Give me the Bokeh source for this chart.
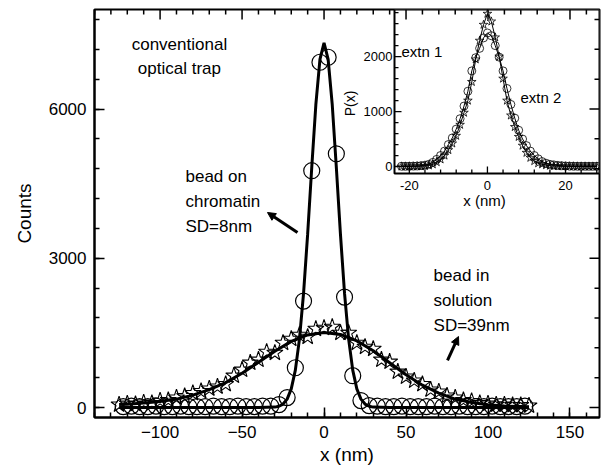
import numpy as np
from bokeh.plotting import figure
from bokeh.models import Range1d, FixedTicker, Label, Arrow, NormalHead
from bokeh.embed import file_html
from bokeh.resources import INLINE
from bokeh.core.properties import value

# ---------------- main panel data ----------------
chrom_x = np.arange(-122.5, 123, 5.0)           # bead on chromatin (circles)
chrom_counts = [20, 30, 20, 20, 30, 20, 20, 30, 20, 20,
                20, 30, 20, 20, 30, 20, 20, 30, 30, 60,
                200, 800, 2140, 4760, 6940, 7040, 5100, 2220, 640, 140,
                40, 30, 20, 20, 30, 20, 20, 20, 30, 20,
                20, 30, 20, 20, 20, 30, 20, 20, 20, 30]

chrom_fit_x = [-125, -40, -30, -27.5, -25, -22.5, -20, -17.5, -15, -12.5, -10, -7.5, -5, -2.5, 0,
               2.5, 5, 7.5, 10, 12.5, 15, 17.5, 20, 22.5, 25, 27.5, 30, 40, 125]
chrom_fit_y = [0, 0, 9, 25, 70, 170, 375, 752, 1376, 2294, 3485, 4825, 6086, 6997, 7330,
               6997, 6086, 4825, 3485, 2294, 1376, 752, 375, 170, 70, 25, 9, 0, 0]

sol_x = np.arange(-125, 126, 5)                  # bead in solution (stars)
sol_counts = [60, 80, 70, 100, 90, 140, 150, 200, 230, 290,
              330, 380, 420, 470, 640, 760, 900, 960, 1120, 1100,
              1300, 1380, 1460, 1420, 1580, 1600, 1620, 1500, 1500, 1300,
              1220, 1180, 960, 920, 720, 620, 540, 470, 360, 320,
              240, 200, 150, 130, 90, 80, 60, 60, 50, 50, 40]

sol_fit_x = [-125, -120, -110, -100, -90, -80, -70, -60, -50, -40, -30, -20, -10, 0,
             10, 20, 30, 40, 50, 60, 70, 80, 90, 100, 110, 120, 125]
sol_fit_y = [60, 65, 90, 120, 170, 250, 360, 500, 690, 910, 1130, 1330, 1460, 1510,
             1470, 1340, 1140, 900, 660, 450, 290, 170, 100, 55, 30, 20, 15]

x_ticks = [-100, -50, 0, 50, 100, 150]
x_minor = list(range(-140, 170, 10))
y_ticks = [0, 3000, 6000]
y_minor = list(range(0, 8000, 600))

# ---------------- inset data ----------------
in_x = np.arange(-22, 29, 1)
in_ext1 = [5, 5, 5, 8, 10, 15, 25, 40, 75, 130, 200, 280, 400, 520, 680, 870, 1100, 1370,
           1740, 1980, 2150, 2340, 2430, 2380, 2200, 1990, 1740, 1420, 1130, 880, 660, 500,
           380, 280, 200, 140, 90, 60, 40, 30, 20, 15, 10, 8, 6, 5, 5, 5, 5, 5, 5]
in_ext2 = [0, 0, 2, 2, 4, 6, 10, 20, 40, 80, 130, 200, 300, 420, 560, 760, 980, 1200,
           1540, 1950, 2290, 2580, 2780, 2640, 2350, 2000, 1600, 1200, 930, 720, 540, 380,
           250, 160, 100, 60, 40, 25, 15, 10, 6, 4, 3, 2, 2, 1, 1, 1, 0, 0, 0]
in_x_ticks = [-20, 0, 20]
in_x_minor = list(range(-20, 29, 4))
in_y_ticks = [0, 1000, 2000]
in_y_minor = list(range(0, 2900, 200))

FONT = "Liberation Sans"

# ---------------- geometry ----------------
XR = (-140, 168)
YR = (-200, 8000)
FW, FH = 505, 408
xpp = (XR[1] - XR[0]) / FW
ypp = (YR[1] - YR[0]) / FH
IX0, IX1 = -23.8, 28.7
IY0, IY1 = -127, 2857
IN_LEFT_PX = 300      # inset left from frame left
IN_W, IN_H = 205, 164
ixpp = (IX1 - IX0) / IN_W
iypp = (IY1 - IY0) / IN_H

p = figure(width=602, height=473, x_range=Range1d(*XR), y_range=Range1d(*YR),
           output_backend="svg", toolbar_location=None,
           min_border_left=94, min_border_right=3, min_border_top=9, min_border_bottom=56,
           x_axis_label="x (nm)", y_axis_label="Counts")
p.extra_x_ranges = {"ix": Range1d(IX0 - IN_LEFT_PX * ixpp, IX1)}
p.extra_y_ranges = {"iy": Range1d(IY0 - (FH - IN_H) * iypp, IY1)}
p.grid.visible = False
p.outline_line_color = "black"
p.outline_line_width = 2
p.background_fill_color = "white"
p.border_fill_color = "white"

for ax, tk in ((p.xaxis[0], FixedTicker(ticks=x_ticks, minor_ticks=x_minor)),
               (p.yaxis[0], FixedTicker(ticks=y_ticks, minor_ticks=y_minor))):
    ax.ticker = tk
    ax.axis_line_width = 2
    ax.axis_line_color = "black"
    ax.major_tick_in = 10
    ax.major_tick_out = 0
    ax.minor_tick_in = 5
    ax.minor_tick_out = 0
    ax.major_tick_line_width = 1.5
    ax.minor_tick_line_width = 1.5
    ax.major_tick_line_color = "black"
    ax.minor_tick_line_color = "black"
    ax.major_label_text_font = FONT
    ax.axis_label_text_font = FONT
    ax.axis_label_text_font_style = "normal"
    ax.major_label_text_color = "black"
    ax.axis_label_text_color = "black"
    ax.major_label_text_font_size = "17px"
    ax.axis_label_text_font_size = "19px"
    ax.major_label_standoff = 8
p.xaxis.axis_label_standoff = 3
p.yaxis.axis_label_standoff = 11

# main glyphs
p.line(sol_fit_x, sol_fit_y, line_color="black", line_width=3)
p.scatter(sol_x, sol_counts, marker="star", size=17, fill_color=None,
          line_color="black", line_width=1.1)
p.scatter(chrom_x, chrom_counts, marker="circle", size=16, fill_color=None,
          line_color="black", line_width=1.2)
p.line(chrom_fit_x, chrom_fit_y, line_color="black", line_width=3)

# main annotations
TXT = dict(text_font=FONT, text_font_size="17px", text_color="black")
p.add_layout(Label(x=-88.2, y=7480, text="conventional\noptical trap", text_align="center",
                   text_baseline="top", text_line_height=1.25, **TXT))
p.add_layout(Label(x=-84.5, y=4825, text="bead on\nchromatin\nSD=8nm", text_align="left",
                   text_baseline="top", text_line_height=1.3, **TXT))
p.add_layout(Label(x=66.8, y=2835, text="bead in\nsolution\nSD=39nm", text_align="left",
                   text_baseline="top", text_line_height=1.3, **TXT))
p.add_layout(Arrow(end=NormalHead(size=8, fill_color="black", line_color="black"),
                   x_start=-16.2, y_start=3519, x_end=-34.5, y_end=3920,
                   line_width=3, line_color="black"))
p.add_layout(Arrow(end=NormalHead(size=8, fill_color="black", line_color="black"),
                   x_start=75.3, y_start=946, x_end=82.0, y_end=1428,
                   line_width=3, line_color="black"))

# ---------------- inset ----------------
R = dict(x_range_name="ix", y_range_name="iy")
p.quad(left=[IX0], right=[IX1], bottom=[IY0], top=[IY1], fill_color="white",
       line_color="black", line_width=2, **R)
p.line(in_x, in_ext1, line_color="black", line_width=1, **R)
p.line(in_x, in_ext2, line_color="black", line_width=1, **R)
p.scatter(in_x, in_ext1, marker="circle", size=8, fill_color=None, line_color="black",
          line_width=0.8, **R)
p.scatter(in_x, in_ext2, marker="star", size=9, fill_color=None, line_color="black",
          line_width=0.8, **R)

# inset ticks (inside, left and bottom)
ymin_t = [v for v in in_y_minor if v not in in_y_ticks]
p.segment(x0=[IX0] * len(ymin_t), y0=ymin_t, x1=[IX0 + 4 * ixpp] * len(ymin_t), y1=ymin_t,
          line_color="black", line_width=1.3, **R)
p.segment(x0=[IX0] * len(in_y_ticks), y0=in_y_ticks, x1=[IX0 + 7 * ixpp] * len(in_y_ticks),
          y1=in_y_ticks, line_color="black", line_width=1.3, **R)
xmin_t = [v for v in in_x_minor if v not in in_x_ticks]
p.segment(x0=xmin_t, y0=[IY0] * len(xmin_t), x1=xmin_t, y1=[IY0 + 4 * iypp] * len(xmin_t),
          line_color="black", line_width=1.3, **R)
p.segment(x0=in_x_ticks, y0=[IY0] * len(in_x_ticks), x1=in_x_ticks,
          y1=[IY0 + 7 * iypp] * len(in_x_ticks), line_color="black", line_width=1.3, **R)

p.text(x=[IX0 - 2 * ixpp] * len(in_y_ticks), y=in_y_ticks, text=[str(v) for v in in_y_ticks],
       text_align="right", text_baseline="middle", text_font=value(FONT),
       text_font_size="13px", text_color="black", **R)
p.text(x=in_x_ticks, y=[IY0 - 7 * iypp] * len(in_x_ticks), text=[str(v) for v in in_x_ticks],
       text_align="center", text_baseline="top", text_font=value(FONT),
       text_font_size="13px", text_color="black", **R)

ITXT = dict(text_font=FONT, text_color="black")
p.add_layout(Label(x=-0.75, y=-618, text="x (nm)", text_align="center", text_baseline="middle",
                   text_font_size="15px", **ITXT, **R))
p.add_layout(Label(x=-35.3, y=1147, text="P(x)", angle=np.pi / 2, text_align="center",
                   text_baseline="middle", text_font_size="14px", **ITXT, **R))
p.add_layout(Label(x=-22.0, y=2093, text="extn 1", text_align="left", text_baseline="middle",
                   text_font_size="15px", **ITXT, **R))
p.add_layout(Label(x=8.47, y=1256, text="extn 2", text_align="left", text_baseline="middle",
                   text_font_size="15px", **ITXT, **R))

# mirrored main ticks on top and right frame edges (drawn above the inset)
xmin_m = [v for v in x_minor if v not in x_ticks]
p.segment(x0=xmin_m, y0=[YR[1]] * len(xmin_m), x1=xmin_m, y1=[YR[1] - 5 * ypp] * len(xmin_m),
          line_color="black", line_width=1.5)
p.segment(x0=x_ticks, y0=[YR[1]] * len(x_ticks), x1=x_ticks, y1=[YR[1] - 10 * ypp] * len(x_ticks),
          line_color="black", line_width=1.5)
ymin_m = [v for v in y_minor if v not in y_ticks]
p.segment(x0=[XR[1]] * len(ymin_m), y0=ymin_m, x1=[XR[1] - 5 * xpp] * len(ymin_m), y1=ymin_m,
          line_color="black", line_width=1.5)
p.segment(x0=[XR[1]] * len(y_ticks), y0=y_ticks, x1=[XR[1] - 10 * xpp] * len(y_ticks), y1=y_ticks,
          line_color="black", line_width=1.5)

open("out.html", "w").write(file_html(p, INLINE))
